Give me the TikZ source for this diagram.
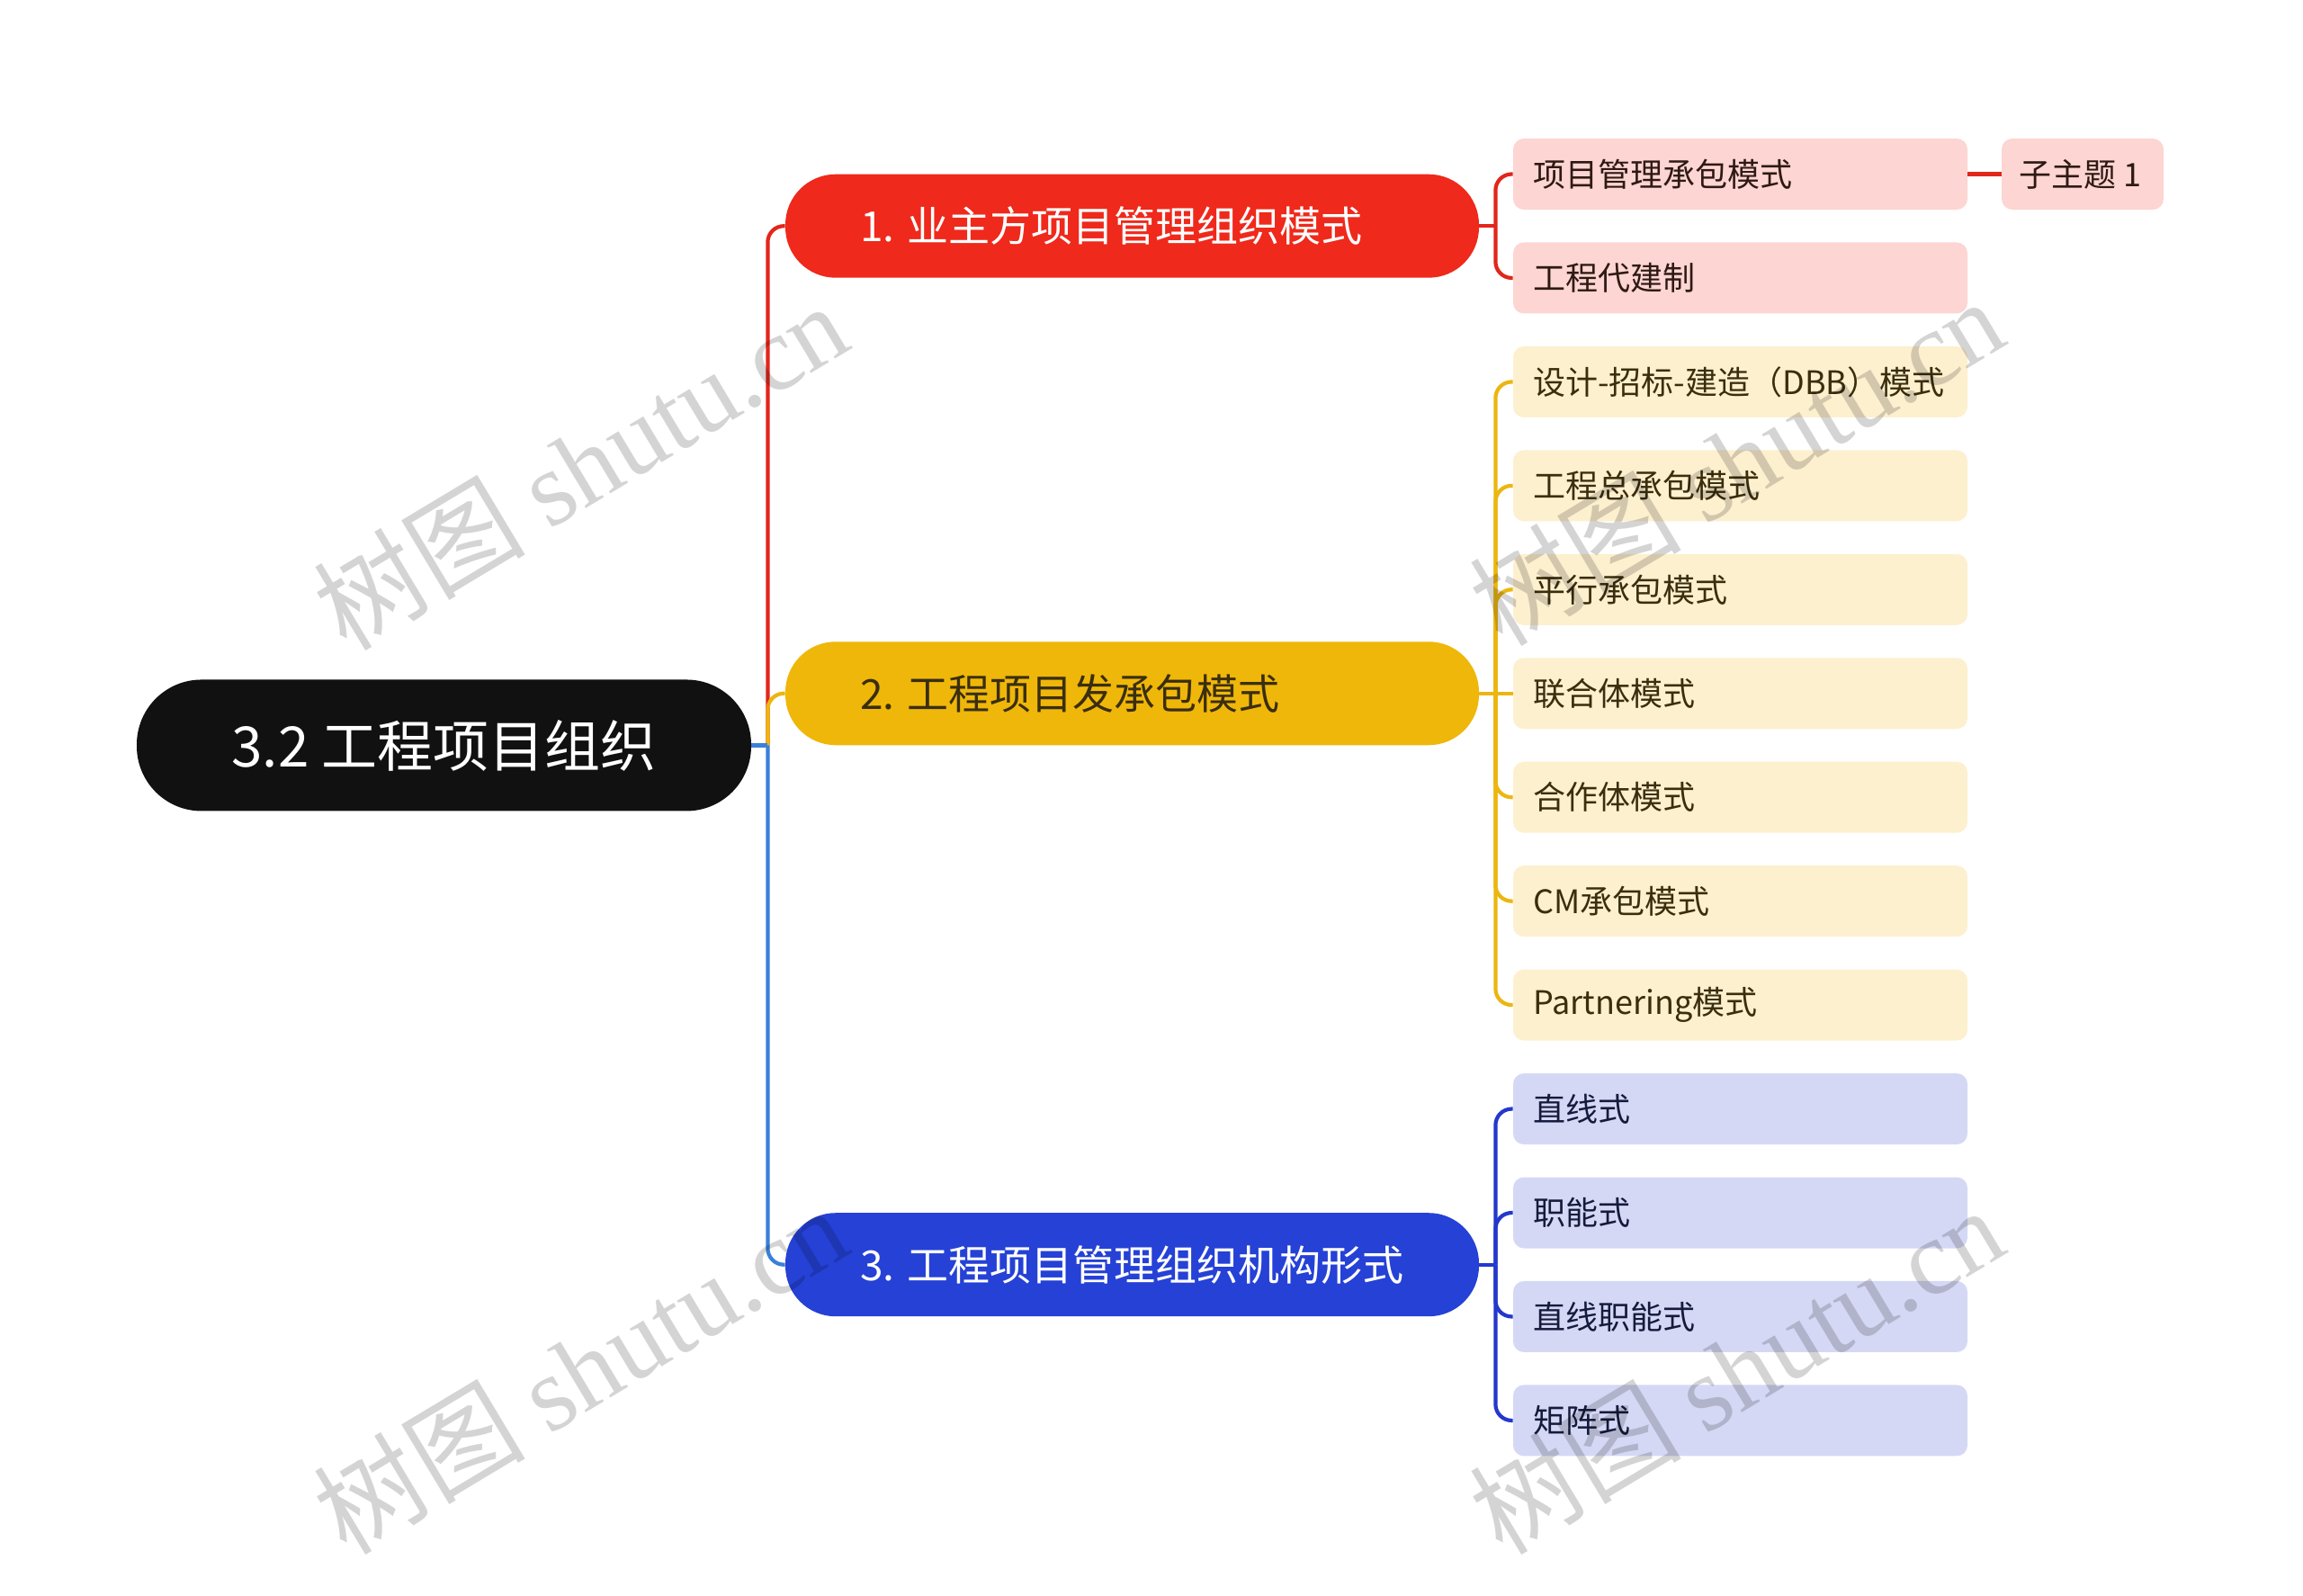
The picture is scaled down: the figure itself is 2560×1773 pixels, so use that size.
\documentclass[tikz,border=0pt]{standalone}
\usepackage{fontspec}
\setmainfont{Noto Sans CJK SC}
\newfontfamily\wmlatin{Liberation Serif}
\usetikzlibrary{calc}
\definecolor{cRoot}{HTML}{111111}
\definecolor{cRed}{HTML}{EF291B}
\definecolor{cRedLine}{HTML}{E2261B}
\definecolor{cYel}{HTML}{EFB70A}
\definecolor{cYelLine}{HTML}{ECB610}
\definecolor{cBlue}{HTML}{2541D6}
\definecolor{cBlueLine}{HTML}{2438CC}
\definecolor{cTrunkBlue}{HTML}{3A80DA}
\definecolor{cPink}{HTML}{FDD5D2}
\definecolor{cCream}{HTML}{FDF0CF}
\definecolor{cLav}{HTML}{D5D8F5}
\definecolor{tPink}{HTML}{2E1A12}
\definecolor{tCream}{HTML}{3A2E0E}
\definecolor{tLav}{HTML}{151B3C}
\begin{document}
\begin{tikzpicture}[x=0.5pt,y=-0.5pt,
  rootbox/.style={fill=cRoot, text=white, rounded corners=36pt, minimum width=341.5pt, minimum height=73pt, inner sep=0pt, font=\fontsize{31pt}{36pt}\selectfont},
  mainbox/.style={rounded corners=28pt, minimum width=385.5pt, minimum height=57.5pt, inner sep=0pt},
  maintext/.style={anchor=west, inner sep=0pt, font=\fontsize{23pt}{28pt}\selectfont},
  childbox/.style={rounded corners=6pt, minimum width=252.5pt, minimum height=39.5pt, inner sep=0pt},
  childtext/.style={anchor=west, inner sep=0pt, font=\fontsize{18pt}{22pt}\selectfont},
  subbox/.style={rounded corners=6pt, minimum width=90pt, minimum height=39.5pt, inner sep=0pt},
  conn/.style={line width=2.1pt, rounded corners=9pt},
  wmark/.style={rotate=31, text=black, text opacity=0.17, inner sep=0pt, font=\fontsize{59pt}{62pt}\selectfont}
]
\useasboundingbox (0,0) rectangle (2560,1773);
\fill[white] (0,0) rectangle (2560,1773);

% root and main topics
\node[rootbox] (root) at (493.5,828.45) {3.2 工程项目组织};
\node[mainbox, fill=cRed] (m1) at (1258.5,251.2) {};
\node[maintext, text=white] (m1t) at (956,251.2) {1. 业主方项目管理组织模式};
\node[mainbox, fill=cYel] (m2) at (1258.5,770.75) {};
\node[maintext, text=tCream] (m2t) at (956,770.75) {2. 工程项目发承包模式};
\node[mainbox, fill=cBlue] (m3) at (1258.5,1405.7) {};
\node[maintext, text=white] (m3t) at (956,1405.7) {3. 工程项目管理组织机构形式};

% children boxes
\foreach \i/\y/\c in {0/193.5/cPink,1/308.95/cPink,
  2/424.4/cCream,3/539.85/cCream,4/655.3/cCream,5/770.75/cCream,6/886.2/cCream,7/1001.65/cCream,8/1117.1/cCream,
  9/1232.55/cLav,10/1348.0/cLav,11/1463.45/cLav,12/1578.9/cLav}
  \node[childbox, fill=\c] (c\i) at (1934.5,\y) {};
\node[subbox, fill=cPink] (s0) at (2315,193.5) {};

% children texts
\node[childtext, text=tPink] (c0t) at (1704,193.5) {项目管理承包模式};
\node[childtext, text=tPink] (c1t) at (1704,308.95) {工程代建制};
\node[childtext, text=tCream] (c2t) at (1704,424.4) {设计-招标-建造（DBB）模式};
\node[childtext, text=tCream] (c3t) at (1704,539.85) {工程总承包模式};
\node[childtext, text=tCream] (c4t) at (1704,655.3) {平行承包模式};
\node[childtext, text=tCream] (c5t) at (1704,770.75) {联合体模式};
\node[childtext, text=tCream] (c6t) at (1704,886.2) {合作体模式};
\node[childtext, text=tCream] (c7t) at (1704,1001.65) {CM承包模式};
\node[childtext, text=tCream] (c8t) at (1704,1117.1) {Partnering模式};
\node[childtext, text=tLav] (c9t) at (1704,1232.55) {直线式};
\node[childtext, text=tLav] (c10t) at (1704,1348.0) {职能式};
\node[childtext, text=tLav] (c11t) at (1704,1463.45) {直线职能式};
\node[childtext, text=tLav] (c12t) at (1704,1578.9) {矩阵式};
\node[childtext, text=tPink] (s0t) at (2244,193.5) {子主题 1};

% root-level connectors
\coordinate (j0) at ($(root.east)+(18,0)$);
\draw[conn, cRedLine] (j0) -- (j0 |- m1.west) -- (m1.west);
\draw[conn, cYelLine] (j0) -- (j0 |- m2.west) -- (m2.west);
\draw[conn, cTrunkBlue] (j0) -- (j0 |- m3.west) -- (m3.west);
\draw[line width=2.1pt, cTrunkBlue] (root.east) -- (j0);

% main1 children
\coordinate (t1) at ($(m1.east)+(18,0)$);
\draw[line width=2.1pt, cRedLine] (m1.east) -- (t1);
\foreach \k in {0,1}
  \draw[conn, cRedLine] (t1) -- (t1 |- c\k.west) -- (c\k.west);
\draw[line width=2.3pt, cRedLine] (c0.east) -- (s0.west);

% main2 children
\coordinate (t2) at ($(m2.east)+(18,0)$);
\draw[line width=2.1pt, cYelLine] (m2.east) -- (c5.west);
\foreach \k in {2,3,4,6,7,8}
  \draw[conn, cYelLine] (t2) -- (t2 |- c\k.west) -- (c\k.west);

% main3 children
\coordinate (t3) at ($(m3.east)+(18,0)$);
\draw[line width=2.1pt, cBlueLine] (m3.east) -- (t3);
\foreach \k in {9,10,11,12}
  \draw[conn, cBlueLine] (t3) -- (t3 |- c\k.west) -- (c\k.west);

% watermarks
\node[wmark] (w1) at (645,517) {树图 {\wmlatin shutu.cn}};
\node[wmark] (w2) at (1930,512) {树图 {\wmlatin shutu.cn}};
\node[wmark] (w3) at (645,1522) {树图 {\wmlatin shutu.cn}};
\node[wmark] (w4) at (1930,1522) {树图 {\wmlatin shutu.cn}};
\end{tikzpicture}
\end{document}
